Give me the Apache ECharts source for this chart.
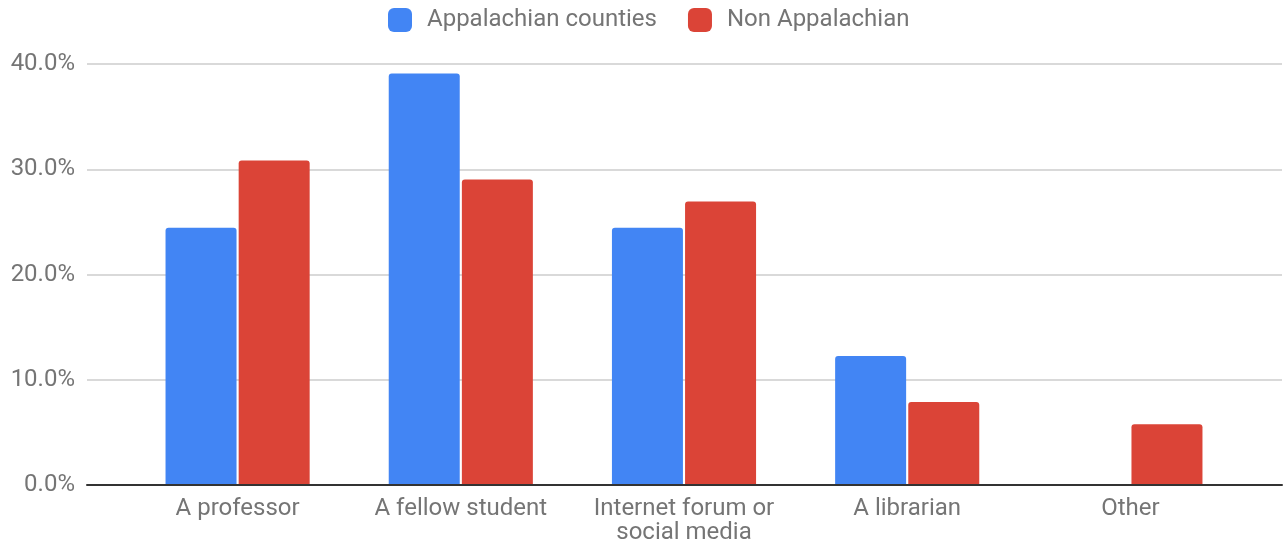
<!DOCTYPE html>
<html>
<head>
<meta charset="utf-8">
<script src="https://cdn.jsdelivr.net/npm/echarts@6/dist/echarts.min.js"></script>
<style>
  html, body { margin: 0; padding: 0; background: #fff; }
  #chart { width: 1287px; height: 545px; }
</style>
</head>
<body>
<div id="chart"></div>
<script>
// Where students first heard about the resource, by region (% of respondents)
const categories = ['A professor', 'A fellow student', 'Internet forum or\nsocial media', 'A librarian', 'Other'];
const appalachian = [24.4, 39.1, 24.4, 12.2, 0];
const nonAppalachian = [30.8, 29.0, 26.9, 7.8, 5.7];
const yTicks = [0, 10, 20, 30, 40];

const textColor = '#757575';
const font = 'Roboto';

const chart = echarts.init(document.getElementById('chart'), null, { renderer: 'canvas' });

chart.setOption({
  animation: false,
  textStyle: { fontFamily: font },
  legend: {
    top: 3,
    left: 383,
    itemWidth: 24,
    itemHeight: 24,
    itemGap: 31,
    icon: 'roundRect',
    textStyle: { color: textColor, fontSize: 24, fontFamily: font, padding: [0, 0, 0, 10] },
    data: ['Appalachian counties', 'Non Appalachian']
  },
  grid: [
    // full-width frame holding the value scale and gridlines
    { left: 87, right: 5, top: 64, bottom: 60 },
    // inner band holding the category bars
    { left: 126, right: 45, top: 64, bottom: 60 }
  ],
  xAxis: [
    {
      gridIndex: 0, type: 'value', min: 0, max: 1,
      axisLine: { show: true, onZero: false, lineStyle: { color: '#333', width: 2 } },
      axisTick: { show: false }, axisLabel: { show: false }, splitLine: { show: false }
    },
    {
      gridIndex: 1, type: 'category', data: categories,
      axisLine: { show: false }, axisTick: { show: false },
      axisLabel: { color: textColor, fontSize: 24, fontFamily: font, margin: 13, lineHeight: 24, interval: 0 }
    }
  ],
  yAxis: [
    {
      gridIndex: 0, type: 'value', min: yTicks[0], max: yTicks[yTicks.length - 1], interval: 10,
      axisLine: { show: false }, axisTick: { show: false },
      splitLine: { lineStyle: { color: '#cccccc', width: 1.5 } },
      axisLabel: {
        color: textColor, fontSize: 24, fontFamily: font, margin: 12,
        formatter: v => v.toFixed(1) + '%'
      }
    },
    {
      gridIndex: 1, type: 'value', min: yTicks[0], max: yTicks[yTicks.length - 1], interval: 10,
      show: false, splitLine: { show: false }
    }
  ],
  series: [
    {
      name: 'Appalachian counties', type: 'bar', xAxisIndex: 1, yAxisIndex: 1,
      data: appalachian, barWidth: 71, barGap: '3%',
      itemStyle: { color: '#4285F4', borderRadius: [3, 3, 0, 0] }
    },
    {
      name: 'Non Appalachian', type: 'bar', xAxisIndex: 1, yAxisIndex: 1,
      data: nonAppalachian, barWidth: 71, barGap: '3%',
      itemStyle: { color: '#DB4437', borderRadius: [3, 3, 0, 0] }
    }
  ]
});
</script>
</body>
</html>
